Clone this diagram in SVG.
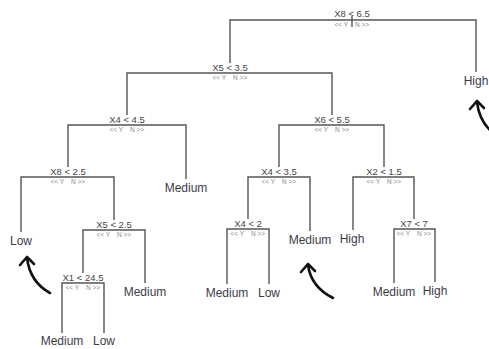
<svg xmlns="http://www.w3.org/2000/svg" width="489" height="349" viewBox="0 0 489 349">
<style>
.bg{fill:#ffffff}
.edge{fill:none;stroke:#555555;stroke-width:1.4}
.split{font-family:"Liberation Sans",Arial,sans-serif;font-size:9.5px;fill:#444444;text-anchor:middle}
.yn{font-family:"Liberation Sans",Arial,sans-serif;font-size:6.5px;fill:#8a8a8a}
.leaf{font-family:"Liberation Sans",Arial,sans-serif;font-size:12px;fill:#3d3a4a;text-anchor:middle}
.hand{fill:none;stroke:#111111;stroke-width:2.6;stroke-linecap:round;stroke-linejoin:round}
</style>
<rect class="bg" x="0" y="0" width="489" height="349"/>
<g id="connectors">
<path class="edge" d="M352 20 H230 V63"/>
<path class="edge" d="M352 20 H476 V72"/>
<path class="edge" d="M352 16 V27"/>
<path class="edge" d="M230 73 H127 V115"/>
<path class="edge" d="M230 73 H332 V115"/>
<path class="edge" d="M127 125 H68 V167"/>
<path class="edge" d="M127 125 H186 V179"/>
<path class="edge" d="M68 177 H21 V232"/>
<path class="edge" d="M68 177 H114 V220"/>
<path class="edge" d="M114 230 H83 V273"/>
<path class="edge" d="M114 230 H145 V283"/>
<path class="edge" d="M83 283 H62 V333"/>
<path class="edge" d="M83 283 H104 V333"/>
<path class="edge" d="M332 125 H279 V167"/>
<path class="edge" d="M332 125 H384 V167"/>
<path class="edge" d="M279 177 H248 V219"/>
<path class="edge" d="M279 177 H310 V231"/>
<path class="edge" d="M248 229 H227 V284"/>
<path class="edge" d="M248 229 H269 V284"/>
<path class="edge" d="M384 177 H353 V230"/>
<path class="edge" d="M384 177 H414 V219"/>
<path class="edge" d="M414 229 H394 V283"/>
<path class="edge" d="M414 229 H435 V282"/>
</g>
<g id="n_root"><text class="split" x="352" y="17">X8 &lt; 6.5</text><text class="yn" x="348" y="27" text-anchor="end">&lt;&lt; Y</text><text class="yn" x="355" y="27">N &gt;&gt;</text></g>
<g id="n_x5a"><text class="split" x="230" y="70.5">X5 &lt; 3.5</text><text class="yn" x="226" y="80" text-anchor="end">&lt;&lt; Y</text><text class="yn" x="233" y="80">N &gt;&gt;</text></g>
<g id="n_x4a"><text class="split" x="127" y="122.5">X4 &lt; 4.5</text><text class="yn" x="123" y="132" text-anchor="end">&lt;&lt; Y</text><text class="yn" x="130" y="132">N &gt;&gt;</text></g>
<g id="n_x6"><text class="split" x="332" y="122.5">X6 &lt; 5.5</text><text class="yn" x="328" y="132" text-anchor="end">&lt;&lt; Y</text><text class="yn" x="335" y="132">N &gt;&gt;</text></g>
<g id="n_x8b"><text class="split" x="68" y="174.5">X8 &lt; 2.5</text><text class="yn" x="64" y="184" text-anchor="end">&lt;&lt; Y</text><text class="yn" x="71" y="184">N &gt;&gt;</text></g>
<g id="n_x5b"><text class="split" x="114" y="227.5">X5 &lt; 2.5</text><text class="yn" x="110" y="237" text-anchor="end">&lt;&lt; Y</text><text class="yn" x="117" y="237">N &gt;&gt;</text></g>
<g id="n_x1"><text class="split" x="83" y="280.5">X1 &lt; 24.5</text><text class="yn" x="79" y="290" text-anchor="end">&lt;&lt; Y</text><text class="yn" x="86" y="290">N &gt;&gt;</text></g>
<g id="n_x4b"><text class="split" x="279" y="174.5">X4 &lt; 3.5</text><text class="yn" x="275" y="184" text-anchor="end">&lt;&lt; Y</text><text class="yn" x="282" y="184">N &gt;&gt;</text></g>
<g id="n_x4c"><text class="split" x="248" y="226.5">X4 &lt; 2</text><text class="yn" x="244" y="236" text-anchor="end">&lt;&lt; Y</text><text class="yn" x="251" y="236">N &gt;&gt;</text></g>
<g id="n_x2"><text class="split" x="384" y="174.5">X2 &lt; 1.5</text><text class="yn" x="380" y="184" text-anchor="end">&lt;&lt; Y</text><text class="yn" x="387" y="184">N &gt;&gt;</text></g>
<g id="n_x7"><text class="split" x="414" y="226.5">X7 &lt; 7</text><text class="yn" x="410" y="236" text-anchor="end">&lt;&lt; Y</text><text class="yn" x="417" y="236">N &gt;&gt;</text></g>
<g id="l_high1"><text class="leaf" x="476" y="84.5">High</text></g>
<g id="l_med1"><text class="leaf" x="186" y="191.5">Medium</text></g>
<g id="l_low1"><text class="leaf" x="21" y="244.5">Low</text></g>
<g id="l_med2"><text class="leaf" x="145" y="295.5">Medium</text></g>
<g id="l_med3"><text class="leaf" x="62" y="345">Medium</text></g>
<g id="l_low2"><text class="leaf" x="104" y="345">Low</text></g>
<g id="l_med4"><text class="leaf" x="227" y="296.5">Medium</text></g>
<g id="l_low3"><text class="leaf" x="269" y="296.5">Low</text></g>
<g id="l_med5"><text class="leaf" x="310" y="243.5">Medium</text></g>
<g id="l_high2"><text class="leaf" x="352" y="242.5">High</text></g>
<g id="l_med6"><text class="leaf" x="394" y="295.5">Medium</text></g>
<g id="l_high3"><text class="leaf" x="435" y="294.5">High</text></g>
<g id="arrows">
<path class="hand" d="M491 131 Q479 120 477 102"/>
<path class="hand" d="M470 109 L477 101 L484 108"/>
<path class="hand" d="M50 293 Q30 282 27 258"/>
<path class="hand" d="M20 265 L27 257 L34 264"/>
<path class="hand" d="M333 298 Q311 287 308 265"/>
<path class="hand" d="M301 272 L308 264 L315 271"/>
</g>
</svg>
